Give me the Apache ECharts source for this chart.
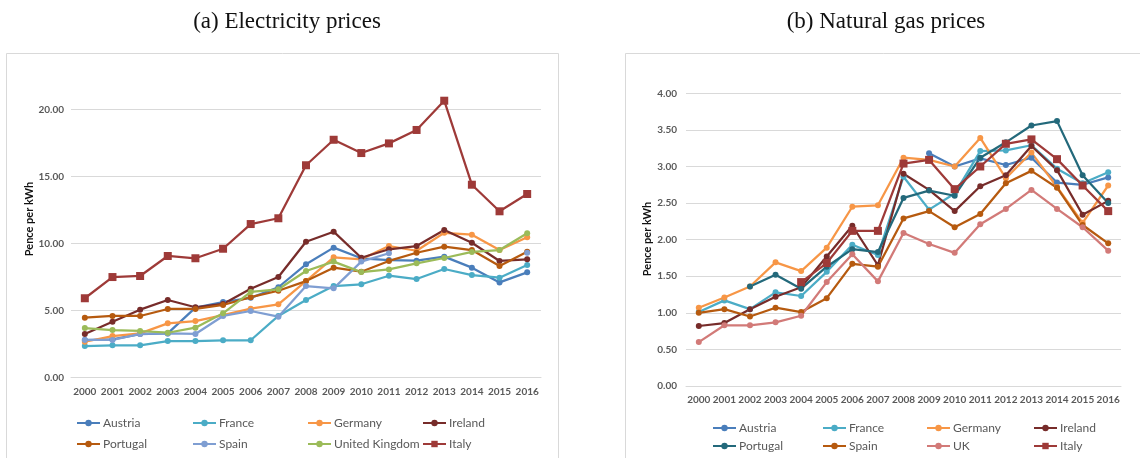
<!DOCTYPE html>
<html><head><meta charset="utf-8">
<script src="https://cdn.jsdelivr.net/npm/echarts@6/dist/echarts.min.js"></script>
<style>
html,body{margin:0;padding:0;background:#fff;width:1140px;height:458px;overflow:hidden}
#a{position:absolute;left:0;top:0;width:570px;height:458px}
#b{position:absolute;left:570px;top:0;width:570px;height:458px}
</style></head><body>
<div id="a"></div><div id="b"></div>
<script>
const years = ['2000','2001','2002','2003','2004','2005','2006','2007','2008','2009','2010','2011','2012','2013','2014','2015','2016'];
const elecTicks = [0, 5, 10, 15, 20];
const gasTicks = [0, 0.5, 1, 1.5, 2, 2.5, 3, 3.5, 4];

// Electricity prices (pence per kWh)
const elecAustria  = [2.80, 2.85, 3.25, 3.30, 5.22, 5.64, 5.95, 6.74, 8.45, 9.69, 8.90, 8.77, 8.72, 9.02, 8.20, 7.10, 7.85];
const elecFrance   = [2.36, 2.41, 2.41, 2.73, 2.73, 2.79, 2.79, 4.60, 5.79, 6.83, 6.96, 7.60, 7.35, 8.10, 7.65, 7.45, 8.40];
const elecGermany  = [2.68, 3.10, 3.30, 4.05, 4.22, 4.67, 5.14, 5.47, 7.20, 8.97, 8.82, 9.81, 9.46, 10.80, 10.66, 9.51, 10.46];
const elecIreland  = [3.26, 4.17, 5.07, 5.79, 5.25, 5.50, 6.63, 7.50, 10.13, 10.88, 8.94, 9.57, 9.81, 11.00, 10.06, 8.70, 8.82];
const elecPortugal = [4.47, 4.60, 4.60, 5.12, 5.12, 5.42, 6.00, 6.48, 7.20, 8.20, 7.90, 8.70, 9.31, 9.76, 9.51, 8.32, 9.39];
const elecSpain    = [2.81, 2.81, 3.26, 3.30, 3.26, 4.60, 4.97, 4.55, 6.83, 6.66, 8.65, 9.27, null, null, null, null, 9.31];
const elecUK       = [3.70, 3.55, 3.48, 3.35, 3.73, 4.80, 6.39, 6.59, 7.95, 8.65, 7.87, 8.07, 8.52, 8.92, 9.37, 9.51, 10.76];
const elecItaly    = [5.92, 7.50, 7.58, 9.07, 8.90, 9.61, 11.45, 11.88, 15.83, 17.73, 16.74, 17.46, 18.46, 20.64, 14.38, 12.40, 13.69];

// Natural gas prices (pence per kWh)
const gasAustria  = [null, null, null, null, null, null, null, null, null, 3.18, 3.00, 3.11, 3.02, 3.12, 2.78, 2.75, 2.85];
const gasFrance   = [1.01, 1.17, 1.05, 1.28, 1.23, 1.56, 1.93, 1.79, 2.86, 2.41, 2.63, 3.21, 3.22, 3.29, 2.97, 2.77, 2.92];
const gasGermany  = [1.07, 1.21, 1.36, 1.69, 1.57, 1.89, 2.45, 2.47, 3.12, 3.09, 3.00, 3.39, 2.84, 3.19, 2.72, 2.23, 2.74];
const gasIreland  = [0.82, 0.86, 1.05, 1.22, 1.35, 1.77, 2.19, 1.65, 2.90, 2.68, 2.39, 2.73, 2.88, 3.28, 2.95, 2.34, 2.53];
const gasPortugal = [null, null, 1.36, 1.52, 1.33, 1.63, 1.87, 1.83, 2.57, 2.67, 2.60, 3.12, 3.33, 3.56, 3.62, 2.88, 2.50];
const gasSpain    = [1.00, 1.05, 0.95, 1.07, 1.01, 1.20, 1.67, 1.63, 2.29, 2.39, 2.17, 2.35, 2.77, 2.94, 2.71, 2.20, 1.95];
const gasUK       = [0.60, 0.83, 0.83, 0.87, 0.96, 1.42, 1.80, 1.43, 2.09, 1.94, 1.82, 2.21, 2.42, 2.68, 2.42, 2.17, 1.85];
const gasItaly    = [null, null, null, null, 1.42, 1.68, 2.12, 2.12, 3.04, 3.09, 2.69, 3.00, 3.31, 3.37, 3.10, 2.74, 2.39];

const elecSeries = [
  ['Austria', elecAustria, '#4A7EBB'],
  ['France', elecFrance, '#4BACC6'],
  ['Germany', elecGermany, '#F79646'],
  ['Ireland', elecIreland, '#772C2A'],
  ['Portugal', elecPortugal, '#B65A0F'],
  ['Spain', elecSpain, '#7F9ED2'],
  ['United Kingdom', elecUK, '#9BBB59'],
  ['Italy', elecItaly, '#9E3A38']
];
const gasSeries = [
  ['Austria', gasAustria, '#4A7EBB'],
  ['France', gasFrance, '#4BACC6'],
  ['Germany', gasGermany, '#F79646'],
  ['Ireland', gasIreland, '#772C2A'],
  ['Portugal', gasPortugal, '#23697B'],
  ['Spain', gasSpain, '#B65A0F'],
  ['UK', gasUK, '#D27A78'],
  ['Italy', gasItaly, '#9E3A38']
];

const SANS = 'Lato';
const GRAY = '#595959';

function buildOption(cfg) {
  const series = cfg.series.map(([name, data, color]) => ({
    name, type: 'line', data,
    symbol: name === 'Italy' ? 'rect' : 'circle',
    symbolSize: name === 'Italy' ? 8 : 6,
    showAllSymbol: true,
    connectNulls: false,
    clip: false,
    lineStyle: { width: 2.25, color },
    itemStyle: { color },
    emphasis: { disabled: true },
    animation: false
  }));
  const legends = cfg.legendCols.map((names, i) => ({
    orient: 'vertical', left: cfg.legendX[i], top: cfg.legendTop,
    itemGap: cfg.legendGap, itemWidth: 23, itemHeight: 8,
    selectedMode: false, data: names,
    textStyle: { fontFamily: SANS, fontSize: 12, color: GRAY, padding: [0, 0, 0, -2] }
  }));
  return {
    animation: false,
    backgroundColor: '#fff',
    title: {
      text: cfg.title, left: cfg.titleX, top: 5, textAlign: 'center',
      textStyle: { fontFamily: 'Liberation Serif', fontWeight: 'normal', fontSize: 23, color: '#111' }
    },
    graphic: [
      { type: 'rect', shape: cfg.panel, style: { fill: 'none', stroke: '#D9D9D9', lineWidth: 1 }, silent: true, z: -1 },
      { type: 'text', x: cfg.nameX, y: cfg.nameY, rotation: Math.PI / 2,
        style: { text: 'Pence per kWh', fontFamily: SANS, fontWeight: 'bold', fontSize: 11, fill: '#111',
                 textAlign: 'center', textVerticalAlign: 'middle' } }
    ],
    legend: legends,
    grid: { left: cfg.grid.left, top: cfg.grid.top, width: cfg.grid.width, height: cfg.grid.height, containLabel: false },
    xAxis: {
      type: 'category', data: years, boundaryGap: true,
      axisLine: { show: true, lineStyle: { color: '#D9D9D9', width: 1 } },
      axisTick: { show: false },
      axisLabel: { interval: 0, margin: 9, fontFamily: SANS, fontWeight: 'bold', fontSize: 10, color: GRAY, hideOverlap: false }
    },
    yAxis: {
      type: 'value', min: cfg.ticks[0], max: cfg.ticks[cfg.ticks.length - 1],
      interval: cfg.ticks[1] - cfg.ticks[0],
      axisLine: { show: false }, axisTick: { show: false },
      splitLine: { show: true, lineStyle: { color: '#D9D9D9', width: 1 } },
      axisLabel: { margin: cfg.yMargin, fontFamily: SANS, fontWeight: 'bold', fontSize: 10, color: GRAY,
                   formatter: v => v.toFixed(2) }
    },
    series
  };
}

const chartA = echarts.init(document.getElementById('a'), null, { renderer: 'canvas' });
chartA.setOption(buildOption({
  title: '(a) Electricity prices', titleX: 282,
  series: elecSeries, ticks: elecTicks,
  panel: { x: 6.5, y: 53.5, width: 552, height: 430 },
  nameX: 29, nameY: 219,
  grid: { left: 71, top: 109.3, width: 470, height: 268.4 },
  yMargin: 7,
  legendCols: [['Austria', 'Portugal'], ['France', 'Spain'], ['Germany', 'United Kingdom'], ['Ireland', 'Italy']],
  legendX: [71, 187, 302, 417], legendTop: 412, legendGap: 9
}));

const chartB = echarts.init(document.getElementById('b'), null, { renderer: 'canvas' });
chartB.setOption(buildOption({
  title: '(b) Natural gas prices', titleX: 311,
  series: gasSeries, ticks: gasTicks,
  panel: { x: 55.5, y: 53.5, width: 600, height: 430 },
  nameX: 77, nameY: 239,
  grid: { left: 116, top: 93.3, width: 435, height: 292.7 },
  yMargin: 9,
  legendCols: [['Austria', 'Portugal'], ['France', 'Spain'], ['Germany', 'UK'], ['Ireland', 'Italy']],
  legendX: [137, 247, 351, 458], legendTop: 417, legendGap: 6
}));
</script>
</body></html>
